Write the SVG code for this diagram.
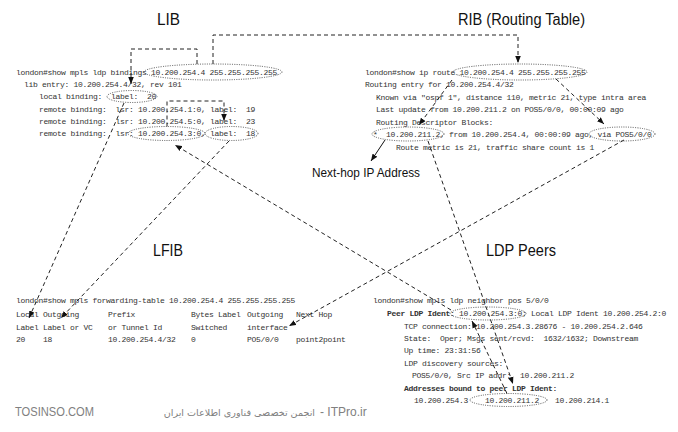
<svg xmlns="http://www.w3.org/2000/svg" width="678" height="432" viewBox="0 0 678 432">
<defs>
<style>
.t { font-family: "Liberation Sans", Arial, sans-serif; fill: #111; }
.m { font-family: "Liberation Mono", "Courier New", monospace; font-size: 8px; letter-spacing: -0.3px; fill: #333; white-space: pre; }
.b { font-weight: bold; }
.ov { fill: none; stroke: #444; stroke-width: 0.9; stroke-dasharray: 1 1.3; }
.dl { fill: none; stroke: #222; stroke-width: 1; stroke-dasharray: 4 3; }
.sl { fill: none; stroke: #111; stroke-width: 1; }
.wm { font-family: "Liberation Sans", Arial, sans-serif; fill: #808080; }
</style>
<marker id="ah" markerWidth="8" markerHeight="6" refX="7" refY="3" orient="auto" markerUnits="userSpaceOnUse">
<path d="M0,0.2 L7,3 L0,5.8 z" fill="#111"/>
</marker>
</defs>
<rect width="678" height="432" fill="#fff"/>

<g id="lib">
<text class="t" x="157" y="25" font-size="16" textLength="23" lengthAdjust="spacingAndGlyphs">LIB</text>
<text class="m" x="16" y="74.5">london#show mpls ldp bindings 10.200.254.4 255.255.255.255</text>
<text class="m" x="24" y="87">lib entry: 10.200.254.4/32, rev 101</text>
<text class="m" x="39" y="99">local binding:  label:  20</text>
<text class="m" x="39" y="111.5">remote binding:  lsr: 10.200.254.1:0, label:  19</text>
<text class="m" x="39" y="124">remote binding:  lsr: 10.200.254.5:0, label:  23</text>
<text class="m" x="39" y="136">remote binding:  lsr: 10.200.254.3:0, label:  18</text>
<ellipse class="ov" cx="213" cy="72" rx="69" ry="8"/>
<ellipse class="ov" cx="132" cy="96.5" rx="25" ry="6"/>
<ellipse class="ov" cx="166.5" cy="133.5" rx="38.5" ry="7"/>
<ellipse class="ov" cx="231.5" cy="133.5" rx="26.5" ry="7"/>
</g>

<g id="rib">
<text class="t" x="458" y="25" font-size="16" textLength="127" lengthAdjust="spacingAndGlyphs">RIB (Routing Table)</text>
<text class="m" x="365" y="74.5">london#show ip route 10.200.254.4 255.255.255.255</text>
<text class="m" x="365" y="87">Routing entry for 10.200.254.4/32</text>
<text class="m" x="376" y="99.5">Known via "ospf 1", distance 110, metric 21, type intra area</text>
<text class="m" x="376" y="112">Last update from 10.200.211.2 on POS5/0/0, 00:00:09 ago</text>
<text class="m" x="376" y="124.5">Routing Descriptor Blocks:</text>
<text class="m" y="136.5"><tspan x="373">*</tspan><tspan x="386">10.200.211.2, from 10.200.254.4, 00:00:09 ago, via POS5/0/0</tspan></text>
<text class="m" x="396" y="149.5">Route metric is 21, traffic share count is 1</text>
<ellipse class="ov" cx="520" cy="72" rx="67" ry="8"/>
<ellipse class="ov" cx="408" cy="134" rx="36" ry="7"/>
<ellipse class="ov" cx="622" cy="134" rx="33" ry="7"/>
</g>

<g id="nexthop">
<text class="t" x="312" y="177" font-size="13.5" textLength="108" lengthAdjust="spacingAndGlyphs">Next-hop IP Address</text>
</g>

<g id="lfib">
<text class="t" x="153" y="256" font-size="17" textLength="30" lengthAdjust="spacingAndGlyphs">LFIB</text>
<text class="m" x="16" y="302.5">london#show mpls forwarding-table 10.200.254.4 255.255.255.255</text>
<text class="m" y="316.5"><tspan x="16">Local</tspan><tspan x="43">Outgoing</tspan><tspan x="108">Prefix</tspan><tspan x="191">Bytes Label</tspan><tspan x="247">Outgoing</tspan><tspan x="296">Next Hop</tspan></text>
<text class="m" y="329.5"><tspan x="16">Label</tspan><tspan x="43">Label or VC</tspan><tspan x="108">or Tunnel Id</tspan><tspan x="191">Switched</tspan><tspan x="247">interface</tspan></text>
<text class="m" y="341.5"><tspan x="16">20</tspan><tspan x="43">18</tspan><tspan x="108">10.200.254.4/32</tspan><tspan x="191">0</tspan><tspan x="247">PO5/0/0</tspan><tspan x="296">point2point</tspan></text>
</g>

<g id="ldp">
<text class="t" x="486" y="256" font-size="17" textLength="70" lengthAdjust="spacingAndGlyphs">LDP Peers</text>
<text class="m" x="373" y="302.5">london#show mpls ldp neighbor pos 5/0/0</text>
<text class="m" x="387" y="316"><tspan class="b">Peer LDP Ident:</tspan> 10.200.254.3:0; Local LDP Ident 10.200.254.2:0</text>
<text class="m" x="404" y="329">TCP connection: 10.200.254.3.28676 - 10.200.254.2.646</text>
<text class="m" x="404" y="340.5">State:  Oper; Msgs sent/rcvd:  1632/1632; Downstream</text>
<text class="m" x="404" y="353">Up time: 23:31:56</text>
<text class="m" x="404" y="365.5">LDP discovery sources:</text>
<text class="m" x="412" y="378">POS5/0/0, Src IP addr:  10.200.211.2</text>
<text class="m b" x="404" y="390.5">Addresses bound to peer LDP Ident:</text>
<text class="m" y="402.5"><tspan x="414">10.200.254.3</tspan><tspan x="485">10.200.211.2</tspan><tspan x="555">10.200.214.1</tspan></text>
<ellipse class="ov" cx="488" cy="313.5" rx="38" ry="6.5"/>
<ellipse class="ov" cx="508.5" cy="400" rx="38.5" ry="6.5"/>
</g>

<g id="connectors">
<path class="dl" d="M197,64 V49 H131 V84" marker-end="url(#ah)"/>
<path class="dl" d="M213,64 V35 H518 V63" marker-end="url(#ah)"/>
<path class="dl" d="M167,126.5 V101 H224 V121" marker-end="url(#ah)"/>
<path class="dl" d="M124,103 L29,318" marker-end="url(#ah)"/>
<path class="dl" d="M229,141 L61,318" marker-end="url(#ah)"/>
<path class="sl" d="M385,140 L371,161" marker-end="url(#ah)"/>
<path class="dl" d="M556,79 L604,124" marker-end="url(#ah)"/>
<path class="dl" d="M452,80 L419,125" marker-end="url(#ah)"/>
<path class="dl" d="M624,140 L289,326" marker-end="url(#ah)"/>
<path class="dl" d="M428,141 L513,384" marker-end="url(#ah)"/>
<path class="dl" d="M451,310 L175,145" marker-end="url(#ah)"/>
<path class="dl" d="M507,393.5 L472,321" marker-end="url(#ah)"/>
</g>

<g id="watermark">
<text class="wm" x="15" y="416" font-size="12" textLength="79" lengthAdjust="spacingAndGlyphs">TOSINSO.COM</text>
<text x="315" y="416" text-anchor="end" font-family="'DejaVu Sans', 'Noto Sans', sans-serif" font-size="9.6" fill="#808080">انجمن تخصصی فناوری اطلاعات ایران</text>
<text class="wm" x="320" y="416" font-size="12">- ITPro.ir</text>
</g>
</svg>
